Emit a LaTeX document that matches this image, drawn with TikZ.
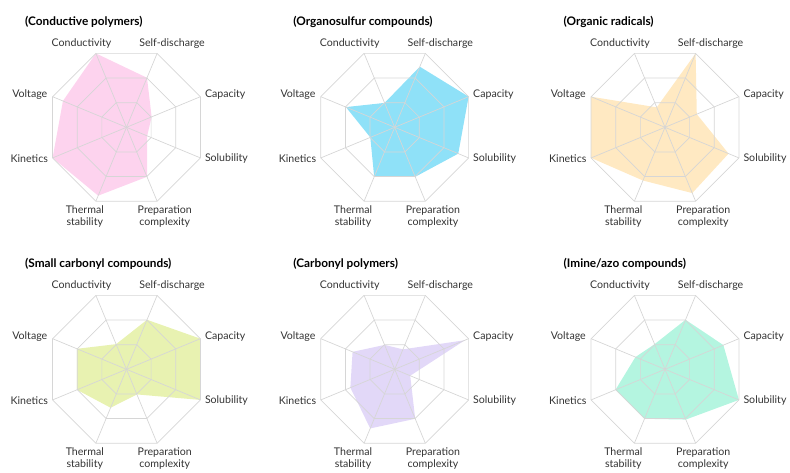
\documentclass[tikz,border=0pt]{standalone}
\usepackage{fontspec}
\setmainfont{Lato}

\definecolor{gridgray}{HTML}{D6D6D6}
\definecolor{labelgray}{HTML}{333333}
\definecolor{fillpink}{HTML}{FDD3EE}
\definecolor{fillblue}{HTML}{8FE1F8}
\definecolor{fillorange}{HTML}{FFE9C2}
\definecolor{fillgreen}{HTML}{E8F2B1}
\definecolor{fillviolet}{HTML}{E2D8F8}
\definecolor{fillmint}{HTML}{B4F5E0}

\tikzset{
  grid line/.style={draw=gridgray, line width=0.7pt, line join=round},
  axis label/.style={font=\fontsize{10.6}{12}\selectfont, text=labelgray, inner sep=0pt, align=center},
  chart title/.style={font=\bfseries\fontsize{11.8}{13}\selectfont, anchor=west, inner sep=0pt}
}

% #1 name, #2 centre, #3 title, #4 fill colour, #5 values
\newcommand{\radarchart}[5]{%
  \begin{scope}[shift={(#2)}]
    \coordinate (#1) at (0,0);
    \foreach \a [count=\i] in {112.5,67.5,22.5,-22.5,-67.5,-112.5,-157.5,157.5}
      \coordinate (#1-v\i) at (\a:80);
    \foreach \v [count=\i] in {#5}
      \coordinate (#1-p\i) at ({112.5-45*(\i-1)}:{80*\v});
    \fill[#4] (#1-p1) -- (#1-p2) -- (#1-p3) -- (#1-p4) -- (#1-p5)
      -- (#1-p6) -- (#1-p7) -- (#1-p8) -- cycle;
    \foreach \r in {1,2,3}
      \draw[grid line] (22.5:{80*\r/3})
        \foreach \a in {67.5,112.5,...,337.5} { -- (\a:{80*\r/3}) } -- cycle;
    \foreach \i in {1,...,8}
      \draw[grid line] (#1) -- (#1-v\i);
    \node[chart title] (#1-title) at (-101.5,105.5) {(#3)};
    \node[axis label] (#1-cond) at (-45,83.3) {Conductivity};
    \node[axis label] (#1-self) at (45.6,83.3) {Self-discharge};
    \node[axis label, anchor=west] (#1-cap) at (78.3,33) {Capacity};
    \node[axis label, anchor=west] (#1-sol) at (78.3,-31.4) {Solubility};
    \node[axis label] (#1-prep) at (38.3,-89.4) {Preparation\\complexity};
    \node[axis label] (#1-therm) at (-41.7,-89.4) {Thermal\\stability};
    \node[axis label, anchor=east] (#1-kin) at (-78.4,-31.3) {Kinetics};
    \node[axis label, anchor=east] (#1-volt) at (-79,33) {Voltage};
  \end{scope}}

\begin{document}
\begin{tikzpicture}[x=1pt, y=1pt]
  \useasboundingbox (0,0) rectangle (790,472);
  \radarchart{cond}{126.5,344.7}{Conductive polymers}{fillpink}{1,.67,.34,.28,.67,.925,1,.86}
  \radarchart{sulf}{394.7,344.7}{Organosulfur compounds}{fillblue}{.33,.82,1,.86,.67,.67,.33,.66}
  \radarchart{rad}{665,344.7}{Organic radicals}{fillorange}{.27,1,.43,.86,.89,.72,1,1}
  \radarchart{carb}{126.5,102.7}{Small carbonyl compounds}{fillgreen}{.34,.67,1,1,.34,.52,.67,.67}
  \radarchart{cpol}{394.7,102.7}{Carbonyl polymers}{fillviolet}{.33,.27,.95,.21,.67,.8,.6,.57}
  \radarchart{imin}{665,102.7}{Imine/azo compounds}{fillmint}{.34,.67,.79,1,.68,.67,.67,.40}
\end{tikzpicture}
\end{document}
